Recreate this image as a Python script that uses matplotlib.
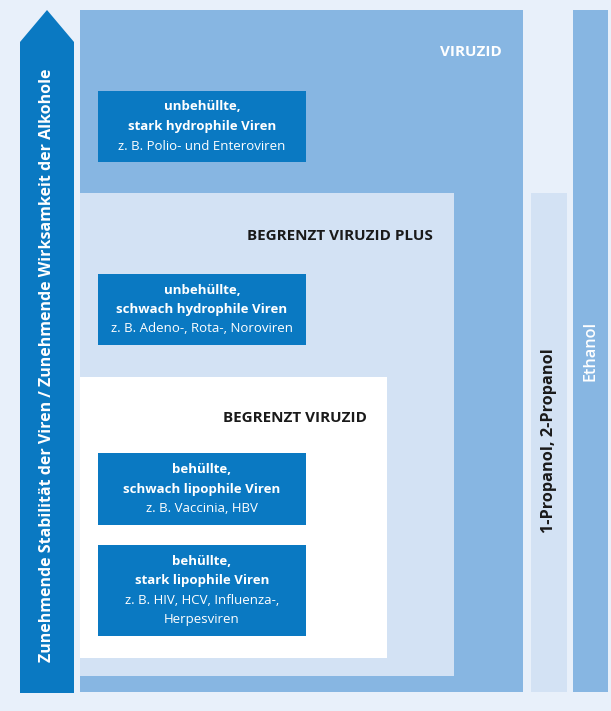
import matplotlib.pyplot as plt
from matplotlib.patches import Rectangle, Polygon

plt.rcParams['font.family'] = ['Open Sans', 'DejaVu Sans']

# Farben
bg_col = "#E8F0FA"
dark_col = "#0A79C2"
mid_col = "#87B6E2"
light_col = "#D3E2F4"

# Bereiche (Titel, Textfarbe)
zone_titles = ["VIRUZID", "BEGRENZT VIRUZID PLUS", "BEGRENZT VIRUZID"]
zone_title_colors = ["white", "#1a1a1a", "#1a1a1a"]

# Virengruppen (zwei fette Zeilen + eine normale)
group_line1 = ["unbehüllte,", "unbehüllte,", "behüllte,", "behüllte,"]
group_line2 = ["stark hydrophile Viren", "schwach hydrophile Viren",
               "schwach lipophile Viren", "stark lipophile Viren"]
group_examples = ["z. B. Polio- und Enteroviren", "z. B. Adeno-, Rota-, Noroviren",
                  "z. B. Vaccinia, HBV", "z. B. HIV, HCV, Influenza-,\nHerpesviren"]

arrow_label = "Zunehmende Stabilität der Viren / Zunehmende Wirksamkeit der Alkohole"
alcohol_labels = ["1-Propanol, 2-Propanol", "Ethanol"]

W, H = 611, 711
fig = plt.figure(figsize=(W / 100, H / 100), dpi=100)
ax = fig.add_axes([0, 0, 1, 1])
ax.set_xlim(0, W)
ax.set_ylim(H, 0)
ax.axis("off")
fig.patch.set_facecolor(bg_col)

# Zonen (x0, y0, x1, y1)
zones = [(80, 10, 523, 692), (80, 193, 454, 676), (80, 377, 387, 658)]
zone_fill = [mid_col, light_col, "white"]
for (x0, y0, x1, y1), c in zip(zones, zone_fill):
    ax.add_patch(Rectangle((x0, y0), x1 - x0, y1 - y0, color=c, lw=0))

title_pos = [(502, 52), (433, 236), (367, 418)]
for t, c, (x, y) in zip(zone_titles, zone_title_colors, title_pos):
    ax.text(x, y, t, color=c, fontsize=11, fontweight="bold", ha="right", va="center")

# Pfeil
ax.add_patch(Polygon([(20, 693), (20, 42), (47, 10), (74, 42), (74, 693)],
                     closed=True, color=dark_col, lw=0))
ax.text(47, 365, arrow_label, color="white", fontsize=11.5, fontweight="bold",
        rotation=90, ha="center", va="center")

# Alkohol-Balken
ax.add_patch(Rectangle((531, 193), 36, 499, color=light_col, lw=0))
ax.add_patch(Rectangle((573, 10), 35, 682, color=mid_col, lw=0))
ax.text(549, 441, alcohol_labels[0], color="#1a1a1a", fontsize=11.7, fontweight="bold",
        rotation=90, ha="center", va="center")
ax.text(591, 351, alcohol_labels[1], color="white", fontsize=11.7, fontweight="semibold",
        rotation=90, ha="center", va="center")

# Virenboxen
boxes = [(98, 91, 306, 162), (98, 274, 306, 345), (98, 453, 306, 525), (98, 545, 306, 636)]
for (x0, y0, x1, y1), l1, l2, ex in zip(boxes, group_line1, group_line2, group_examples):
    ax.add_patch(Rectangle((x0, y0), x1 - x0, y1 - y0, color=dark_col, lw=0))
    xc = (x0 + x1) / 2
    n = 2 + ex.count("\n") + 1
    lh = 19.5
    ytop = (y0 + y1) / 2 - (n - 1) * lh / 2
    ax.text(xc, ytop, l1, color="white", fontsize=9.5, fontweight="bold", ha="center", va="center")
    ax.text(xc, ytop + lh, l2, color="white", fontsize=9.5, fontweight="bold", ha="center", va="center")
    for i, line in enumerate(ex.split("\n")):
        ax.text(xc, ytop + lh * (2 + i), line, color="white", fontsize=9.5,
                ha="center", va="center")

fig.savefig("out.png", dpi=100, facecolor=bg_col)
